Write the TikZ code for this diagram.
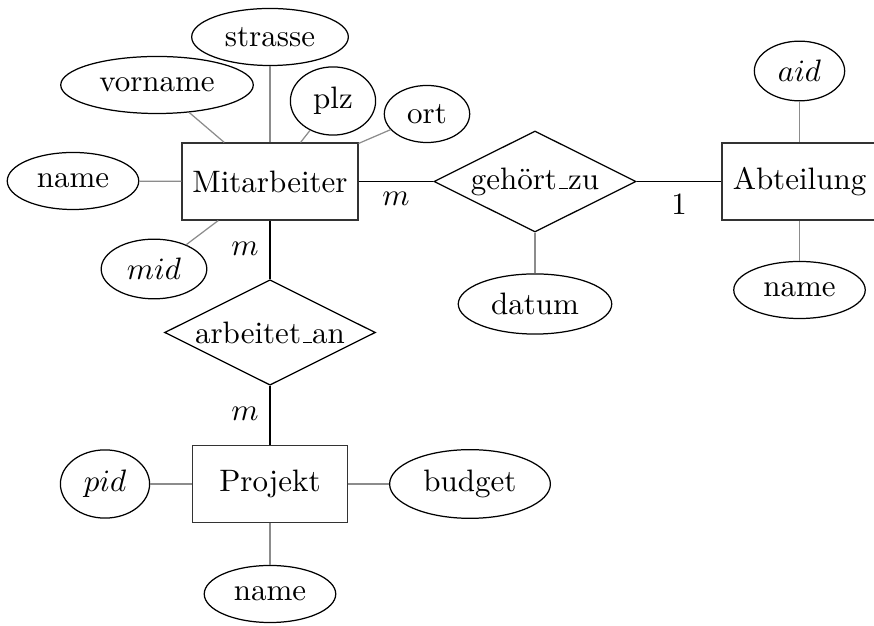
\documentclass[tikz,border=0pt]{standalone}
\usetikzlibrary{shapes.geometric}
% low rule underscore, as in the classic text font
\newcommand\lowbar{\leavevmode\kern.06em\vbox{\hrule width.3em}}
\begin{document}
\begin{tikzpicture}[x=0.3226pt,y=-0.3226pt,
  entity/.style={draw=black!80, rectangle, minimum width=50pt, minimum height=24.8pt},
  attr/.style={draw, ellipse, minimum height=18.4pt},
  rel/.style={draw, diamond, aspect=2, inner sep=0pt},
  attrline/.style={draw=black!45},
  relline/.style={draw=black},
  card/.style={inner sep=1pt}]
\useasboundingbox (0,0) rectangle (874,626);

% entities
\node[entity] (mit)  at (270,181.5) {Mitarbeiter};
\node[entity] (abt)  at (799.5,181.5) {Abteilung};
\node[entity] (proj) at (270,484) {Projekt};

% relationships
\node[rel, minimum width=65.2pt, minimum height=32.6pt] (geh) at (535,181.5) {gehört\lowbar zu};
\node[rel, minimum width=68pt, minimum height=34pt] (arb) at (270,332.5) {arbeitet\lowbar an};

% attributes of Mitarbeiter
\node[attr] (mname)   at (73,181)  {name};
\node[attr] (vorname) at (157,85)  {vorname};
\node[attr] (strasse) at (270,37)  {strasse};
\node[attr] (plz)     at (333,101) {plz};
\node[attr] (ort)     at (427,114) {ort};
\node[attr] (mid)     at (154,269) {$mid$};

% attributes of Abteilung
\node[attr] (aid)   at (799.5,71)  {$aid$};
\node[attr] (aname) at (799.5,290) {name};

% attribute of gehört_zu
\node[attr] (datum) at (535,304) {datum};

% attributes of Projekt
\node[attr] (pid)    at (105,484) {$pid$};
\node[attr] (budget) at (470,484) {budget};
\node[attr] (pname)  at (270,594) {name};

% attribute connectors
\foreach \a in {mname,vorname,strasse,plz,ort,mid}
  \draw[attrline] (\a) -- (mit);
\draw[attrline] (aid) -- (abt);
\draw[attrline] (aname) -- (abt);
\draw[attrline] (datum) -- (geh);
\draw[attrline] (pid) -- (proj);
\draw[attrline] (budget) -- (proj);
\draw[attrline] (pname) -- (proj);

% relationship connectors
\draw[relline] (mit) -- (geh);
\draw[relline] (geh) -- (abt);
\draw[relline] (mit) -- (arb);
\draw[relline] (arb) -- (proj);

% cardinalities
\node[card] (c1) at (396,199) {$m$};
\node[card] (c2) at (679,204) {1};
\node[card] (c3) at (245,249) {$m$};
\node[card] (c4) at (245,414) {$m$};
\end{tikzpicture}
\end{document}
